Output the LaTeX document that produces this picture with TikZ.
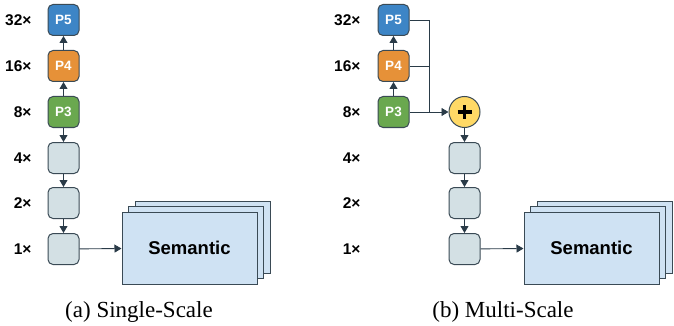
\documentclass[tikz,border=0pt]{standalone}
\usepackage{fontspec}
\setmainfont{Liberation Serif}
\newfontfamily\arial{Liberation Sans}
\usetikzlibrary{arrows.meta}
\definecolor{edge}{HTML}{3A4A55}
\definecolor{arrowc}{HTML}{2A3B48}
\definecolor{grayfill}{HTML}{D3E0E4}
\definecolor{pblue}{HTML}{3D85C6}
\definecolor{porange}{HTML}{E69138}
\definecolor{pgreen}{HTML}{6AA84F}
\definecolor{semfill}{HTML}{CFE2F3}
\definecolor{plusfill}{HTML}{FFD966}
\tikzset{
  feat/.style={draw=edge, fill=grayfill, rounded corners=5pt, minimum width=31pt, minimum height=31pt, inner sep=0pt, line width=1pt},
  pfeat/.style={feat, text=white, font=\arial\bfseries\fontsize{13.5}{14}\selectfont},
  scalelab/.style={anchor=east, font=\arial\bfseries\fontsize{15.5}{16}\selectfont},
  sem/.style={draw=edge, fill=semfill, minimum width=135pt, minimum height=72pt, inner sep=0pt, line width=1pt},
  arr/.style={-{Triangle[length=7pt,width=8pt]}, line width=0.9pt, draw=arrowc},
  conn/.style={line width=0.9pt, draw=arrowc},
  caption/.style={font=\fontsize{23}{26}\selectfont}
}
\begin{document}
\begin{tikzpicture}[x=1pt,y=-1pt]
\useasboundingbox (0,0) rectangle (674,326);
% ---------- (a) Single-Scale ----------
\node[scalelab] (la32) at (35,20) {32×};
\node[scalelab] (la16) at (35,66) {16×};
\node[scalelab] (la8) at (35,112) {8×};
\node[scalelab] (la4) at (35,158) {4×};
\node[scalelab] (la2) at (35,203) {2×};
\node[scalelab] (la1) at (35,249) {1×};
\node[pfeat, fill=pblue] (ap5) at (63.5,20) {P5};
\node[pfeat, fill=porange] (ap4) at (63.5,66) {P4};
\node[pfeat, fill=pgreen] (ap3) at (63.5,112) {P3};
\node[feat] (ag4) at (63.5,158) {};
\node[feat] (ag2) at (63.5,203) {};
\node[feat] (ag1) at (63.5,249) {};
\node[sem] (asemc) at (202.5,237) {};
\node[sem] (asemb) at (196,242.5) {};
\node[sem, font=\arial\bfseries\fontsize{18.5}{20}\selectfont] (asem) at (189.5,248) {Semantic};
\draw[arr] (ap3) -- (ap4);
\draw[arr] (ap4) -- (ap5);
\draw[arr] (ap3) -- (ag4);
\draw[arr] (ag4) -- (ag2);
\draw[arr] (ag2) -- (ag1);
\draw[arr] (ag1) -- (asem);
\node[caption] (capa) at (139,312) {(a) Single-Scale};
% ---------- (b) Multi-Scale ----------
\node[scalelab] (lb32) at (364,20) {32×};
\node[scalelab] (lb16) at (364,66) {16×};
\node[scalelab] (lb8) at (364,112) {8×};
\node[scalelab] (lb4) at (364,158) {4×};
\node[scalelab] (lb2) at (364,203) {2×};
\node[scalelab] (lb1) at (364,249) {1×};
\node[pfeat, fill=pblue] (bp5) at (393.5,20) {P5};
\node[pfeat, fill=porange] (bp4) at (393.5,66) {P4};
\node[pfeat, fill=pgreen] (bp3) at (393.5,112) {P3};
\node[circle, draw=edge, fill=plusfill, minimum size=31pt, inner sep=0pt, line width=1pt] (plus) at (464.5,112) {};
\draw[line width=3.2pt, black] ([xshift=-7pt]plus.center) -- ([xshift=7pt]plus.center);
\draw[line width=3.2pt, black] ([yshift=-7pt]plus.center) -- ([yshift=7pt]plus.center);
\node[feat] (bg4) at (464.5,158) {};
\node[feat] (bg2) at (464.5,203) {};
\node[feat] (bg1) at (464.5,249) {};
\node[sem] (bsemc) at (604.5,237) {};
\node[sem] (bsemb) at (598,242.5) {};
\node[sem, font=\arial\bfseries\fontsize{18.5}{20}\selectfont] (bsem) at (591.5,248) {Semantic};
\coordinate (j) at (429,112);
\draw[arr] (bp3) -- (bp4);
\draw[arr] (bp4) -- (bp5);
\draw[conn] (bp5.east) -| (j);
\draw[conn] (bp4.east) -- (bp4.east -| j);
\draw[arr] (bp3) -- (plus);
\draw[arr] (plus) -- (bg4);
\draw[arr] (bg4) -- (bg2);
\draw[arr] (bg2) -- (bg1);
\draw[arr] (bg1) -- (bsem);
\node[caption] (capb) at (503,312) {(b) Multi-Scale};
\end{tikzpicture}
\end{document}
